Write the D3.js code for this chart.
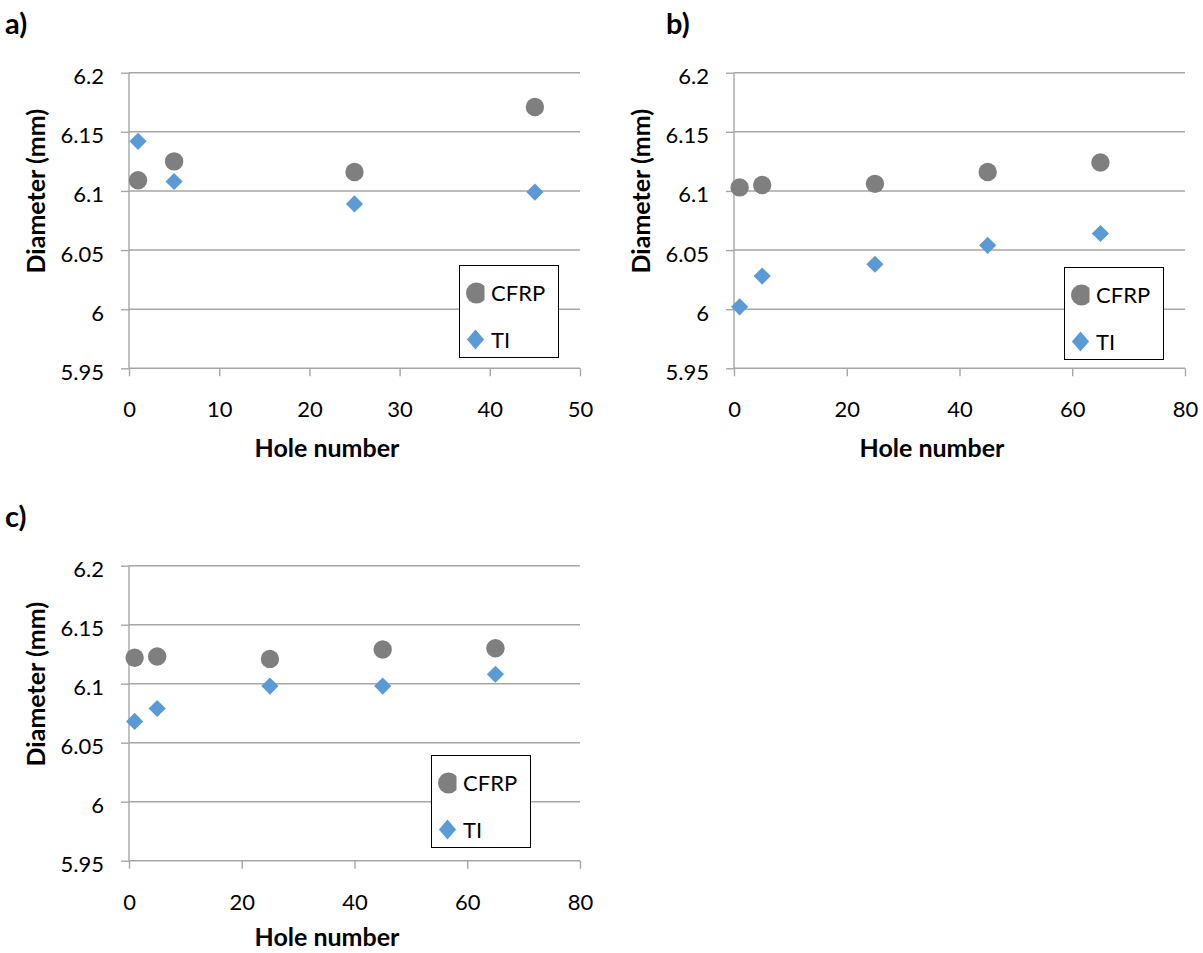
<!DOCTYPE html>
<html>
<head>
<meta charset="utf-8">
<script src="https://cdn.jsdelivr.net/npm/d3@7"></script>
<style>
  html, body { margin: 0; padding: 0; background: #fff; }
  svg { display: block; font-family: Lato, "Open Sans", sans-serif; }
</style>
</head>
<body>
<svg id="chart" width="1203" height="953"></svg>
<script>
// ---- data ----
const holesA = [1, 5, 25, 45];
const cfrpA = [6.109, 6.125, 6.116, 6.171];
const tiA = [6.142, 6.108, 6.089, 6.099];

const holesB = [1, 5, 25, 45, 65];
const cfrpB = [6.103, 6.105, 6.106, 6.116, 6.124];
const tiB = [6.002, 6.028, 6.038, 6.054, 6.064];

const holesC = [1, 5, 25, 45, 65];
const cfrpC = [6.122, 6.123, 6.121, 6.129, 6.130];
const tiC = [6.068, 6.079, 6.098, 6.098, 6.108];

const yTicks = [5.95, 6, 6.05, 6.1, 6.15, 6.2];
const yTickLabels = ["5.95", "6", "6.05", "6.1", "6.15", "6.2"];
const xTicksA = [0, 10, 20, 30, 40, 50];
const xTicksBC = [0, 20, 40, 60, 80];
const seriesNames = ["CFRP", "TI"];
const panelLabels = ["a)", "b)", "c)"];
const xTitle = "Hole number";
const yTitle = "Diameter (mm)";

// ---- styles ----
const gridColor = "#a6a6a6";
const cfrpColor = "#7f7f7f";
const tiColor = "#5b9bd5";

const svg = d3.select("#chart");

function diamondPath(hw, hh) {
  const p = d3.path();
  p.moveTo(0, -hh); p.lineTo(hw, 0); p.lineTo(0, hh); p.lineTo(-hw, 0); p.closePath();
  return p.toString();
}

function drawPanel(opt) {
  const g = svg.append("g");
  const x = d3.scaleLinear().domain(opt.xDomain).range([opt.left, opt.right]);
  const y = d3.scaleLinear().domain([5.95, 6.2]).range([opt.bottom, opt.top]);

  // horizontal gridlines
  g.selectAll(".grid").data(yTicks.slice(1)).enter().append("line")
    .attr("x1", opt.left).attr("x2", opt.right)
    .attr("y1", d => y(d)).attr("y2", d => y(d))
    .attr("stroke", gridColor).attr("stroke-width", 1.4);

  // y axis
  const yAxis = d3.axisLeft(y).tickValues(yTicks)
    .tickFormat((d, i) => yTickLabels[i]).tickSize(8).tickPadding(17);
  const ya = g.append("g").attr("transform", `translate(${opt.left},0)`).call(yAxis);
  ya.select(".domain").attr("stroke", gridColor).attr("stroke-width", 1.4).attr("d", `M0,${opt.bottom}V${opt.top}`);
  ya.selectAll(".tick line").attr("stroke", gridColor).attr("stroke-width", 1.4);
  ya.selectAll(".tick text").attr("font-size", 22).attr("fill", "#000")
    .attr("font-family", "Lato, sans-serif").attr("y", 4);

  // x axis
  const xAxis = d3.axisBottom(x).tickValues(opt.xTicks).tickSize(8).tickPadding(22);
  const xa = g.append("g").attr("transform", `translate(0,${opt.bottom})`).call(xAxis);
  xa.select(".domain").attr("stroke", gridColor).attr("stroke-width", 1.4).attr("d", `M${opt.left},0H${opt.right}`);
  xa.selectAll(".tick line").attr("stroke", gridColor).attr("stroke-width", 1.4);
  xa.selectAll(".tick text").attr("font-size", 22).attr("fill", "#000")
    .attr("font-family", "Lato, sans-serif").attr("y", 49).attr("dy", 0);

  // axis titles
  g.append("text")
    .attr("x", opt.left + 198).attr("y", opt.bottom + opt.xTitleGap)
    .attr("text-anchor", "middle").attr("font-size", 25).attr("font-weight", "bold")
    .text(xTitle);
  g.append("text")
    .attr("transform", `translate(${opt.left - 84},${opt.top + 118.5}) rotate(-90)`)
    .attr("text-anchor", "middle").attr("font-size", 25).attr("font-weight", "bold")
    .text(yTitle);

  // panel label
  g.append("text").attr("x", opt.labelX).attr("y", opt.labelY)
    .attr("font-size", 29).attr("font-weight", "bold").text(opt.label);

  const dataDiamond = diamondPath(8.6, 8.6);

  // CFRP points
  g.selectAll(".cfrp").data(opt.holes).enter().append("circle")
    .attr("cx", d => x(d)).attr("cy", (d, i) => y(opt.cfrp[i]))
    .attr("r", 9.2).attr("fill", cfrpColor);
  // TI points
  g.selectAll(".ti").data(opt.holes).enter().append("path")
    .attr("d", dataDiamond)
    .attr("transform", (d, i) => `translate(${x(d)},${y(opt.ti[i])})`)
    .attr("fill", tiColor);

  // legend
  const lg = g.append("g").attr("transform", `translate(${opt.legX},${opt.legY})`);
  lg.append("rect").attr("x", 0).attr("y", 0).attr("width", 99).attr("height", 92)
    .attr("fill", "#fff").attr("stroke", "#000").attr("stroke-width", 1);
  const clipId = "clip" + opt.label[0];
  lg.append("clipPath").attr("id", clipId).append("rect")
    .attr("x", 0).attr("y", 0).attr("width", 25).attr("height", 92);
  lg.append("circle").attr("cx", 17).attr("cy", 27.5).attr("r", 10.5)
    .attr("fill", cfrpColor).attr("clip-path", `url(#${clipId})`);
  lg.append("path").attr("d", diamondPath(8.6, 10)).attr("transform", "translate(16,74)").attr("fill", tiColor);
  lg.selectAll(".lt").data(seriesNames).enter().append("text")
    .attr("x", 31.5).attr("y", (d, i) => i === 0 ? 35.5 : 82)
    .attr("font-size", 22).text(d => d);
}

drawPanel({ label: panelLabels[0], labelX: 5, labelY: 34,
  left: 129, right: 580, top: 72.7, bottom: 368.3, xTitleGap: 89,
  xDomain: [0, 50], xTicks: xTicksA, holes: holesA, cfrp: cfrpA, ti: tiA,
  legX: 459.5, legY: 265.5 });

drawPanel({ label: panelLabels[1], labelX: 666, labelY: 34,
  left: 734, right: 1185, top: 72.7, bottom: 368.3, xTitleGap: 89,
  xDomain: [0, 80], xTicks: xTicksBC, holes: holesB, cfrp: cfrpB, ti: tiB,
  legX: 1064.5, legY: 267.5 });

drawPanel({ label: panelLabels[2], labelX: 5, labelY: 527,
  left: 129, right: 580, top: 565.7, bottom: 860.7, xTitleGap: 85,
  xDomain: [0, 80], xTicks: xTicksBC, holes: holesC, cfrp: cfrpC, ti: tiC,
  legX: 431.5, legY: 755.5 });
</script>
</body>
</html>
